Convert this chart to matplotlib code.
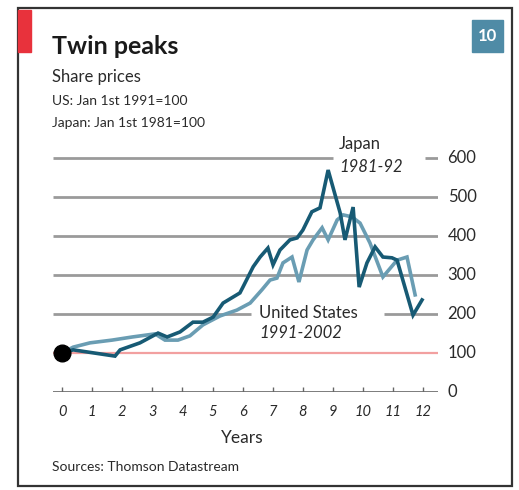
"""Twin peaks: Japan 1981-92 vs United States 1991-2002 share prices."""

import matplotlib
matplotlib.use("Agg")
import matplotlib.pyplot as plt
import matplotlib.transforms as mtrans
from matplotlib.patches import Rectangle

plt.rcParams["font.family"] = ["Lato", "DejaVu Sans"]

# Japan, years since Jan 1st 1981 (index 1981=100)
japan_years = [0, 0.37, 1.76, 1.93, 2.59, 3.19, 3.49, 3.92, 4.35, 4.68, 5.02,
               5.35, 5.91, 6.01, 6.35, 6.58, 6.84, 7.01, 7.24, 7.57, 7.81, 8.0,
               8.3, 8.57, 8.84, 9.24, 9.4, 9.67, 9.87, 10.13, 10.4, 10.66,
               10.96, 11.13, 11.66, 11.96]
japan_values = [100, 108, 92, 108, 126, 151, 141, 154, 179, 179, 192,
                228, 254, 269, 321, 346, 369, 326, 364, 390, 395, 415,
                462, 472, 569, 459, 390, 474, 269, 331, 372, 346,
                344, 338, 197, 236]

# United States, years since Jan 1st 1991 (index 1991=100)
us_years = [0, 0.37, 0.93, 1.66, 2.33, 3.09, 3.42, 3.85, 4.25, 4.68, 5.25,
            5.81, 6.25, 6.64, 6.91, 7.14, 7.34, 7.64, 7.87, 8.14, 8.34, 8.64,
            8.84, 9.14, 9.34, 9.63, 9.9, 10.23, 10.66, 11.13, 11.46, 11.73]
us_values = [100, 115, 126, 133, 141, 149, 133, 133, 144, 172, 195,
             210, 228, 262, 287, 292, 331, 346, 282, 364, 390, 421,
             390, 441, 454, 449, 433, 382, 295, 338, 346, 249]

x_ticks = list(range(0, 13))
y_ticks = [100, 200, 300, 400, 500, 600]

DARK = "#175a74"
LIGHT = "#6a9db3"
GRID = "#9a9a9a"
TEXT = "#2a2a2a"

fig = plt.figure(figsize=(5.19, 4.90), dpi=100)

# frame and red tab
fig.patches.append(Rectangle((18 / 519, 1 - 486 / 490), 494 / 519, 478 / 490,
                             transform=fig.transFigure, fill=False,
                             edgecolor="#333333", linewidth=1.6))
fig.patches.append(Rectangle((18 / 519, 1 - 52 / 490), 13 / 519, 42 / 490,
                             transform=fig.transFigure, color="#e8323c"))
# badge
fig.patches.append(Rectangle((472 / 519, 1 - 52 / 490), 31 / 519, 32 / 490,
                             transform=fig.transFigure, color="#4f8ba6"))
fig.text(487.5 / 519, 1 - 36 / 490, "10", color="white", fontsize=12,
         fontweight="bold", ha="center", va="center")

fig.text(52 / 519, 1 - 47 / 490, "Twin peaks", fontsize=18, fontweight="bold",
         ha="left", va="center", color="#1a1a1a")
fig.text(52 / 519, 1 - 77 / 490, "Share prices", fontsize=12, ha="left",
         va="center", color=TEXT)
fig.text(52 / 519, 1 - 101 / 490, "US: Jan 1st 1991=100", fontsize=10,
         ha="left", va="center", color=TEXT)
fig.text(52 / 519, 1 - 123 / 490, "Japan: Jan 1st 1981=100", fontsize=10,
         ha="left", va="center", color=TEXT)
fig.text(52 / 519, 1 - 467 / 490, "Sources: Thomson Datastream", fontsize=10,
         ha="left", va="center", color=TEXT)

ax = fig.add_axes([53 / 519, 98 / 490, 385 / 519, 252 / 490])
ax.set_xlim(-0.3, 12.49)
ax.set_ylim(0, 646)
ax.axis("off")

# grid lines (some broken around labels)
seg = dict(color=GRID, linewidth=2, zorder=1)
for v in [300, 400, 500]:
    ax.hlines(v, -0.3, 12.49, **seg)
ax.hlines(600, -0.3, 9.0, **seg)
ax.hlines(600, 12.06, 12.49, **seg)
ax.hlines(200, -0.3, 6.28, **seg)
ax.hlines(200, 10.7, 12.49, **seg)
ax.hlines(100, -0.3, 12.49, color="#f2a0a0", linewidth=1.6, zorder=1)
ax.hlines(0, -0.3, 12.49, color="#666666", linewidth=1.2, zorder=1)
ax.vlines(x_ticks, 0, 12, color="#666666", linewidth=1.0, zorder=1)

ax.plot(us_years, us_values, color=LIGHT, linewidth=2.6, zorder=3,
        solid_joinstyle="miter")
ax.plot(japan_years, japan_values, color=DARK, linewidth=2.6, zorder=4,
        solid_joinstyle="miter")
ax.plot([0], [100], "o", color="black", markersize=12, zorder=5,
        clip_on=False)

# y labels on the right
trans = mtrans.blended_transform_factory(ax.transAxes, ax.transData)
for v in [0] + y_ticks:
    ax.text(1.025, v, str(v), transform=trans, fontsize=12, ha="left",
            va="center", color=TEXT)
for x in x_ticks:
    ax.text(x, -50, str(x), fontsize=10.5, style="italic", ha="center",
            va="center", color=TEXT)
ax.text(6, -118, "Years", fontsize=12.5, ha="center", va="center",
        color=TEXT)

ax.text(9.2, 635, "Japan", fontsize=12, ha="left", va="center",
        color=TEXT)
ax.text(9.2, 576, "1981-92", fontsize=12, style="italic", ha="left",
        va="center", color=TEXT)
ax.text(6.55, 203, "United States", fontsize=12, ha="left", va="center",
        color=TEXT)
ax.text(6.55, 152, "1991-2002", fontsize=12, style="italic", ha="left",
        va="center", color=TEXT)

fig.savefig("out.png", dpi=100)
